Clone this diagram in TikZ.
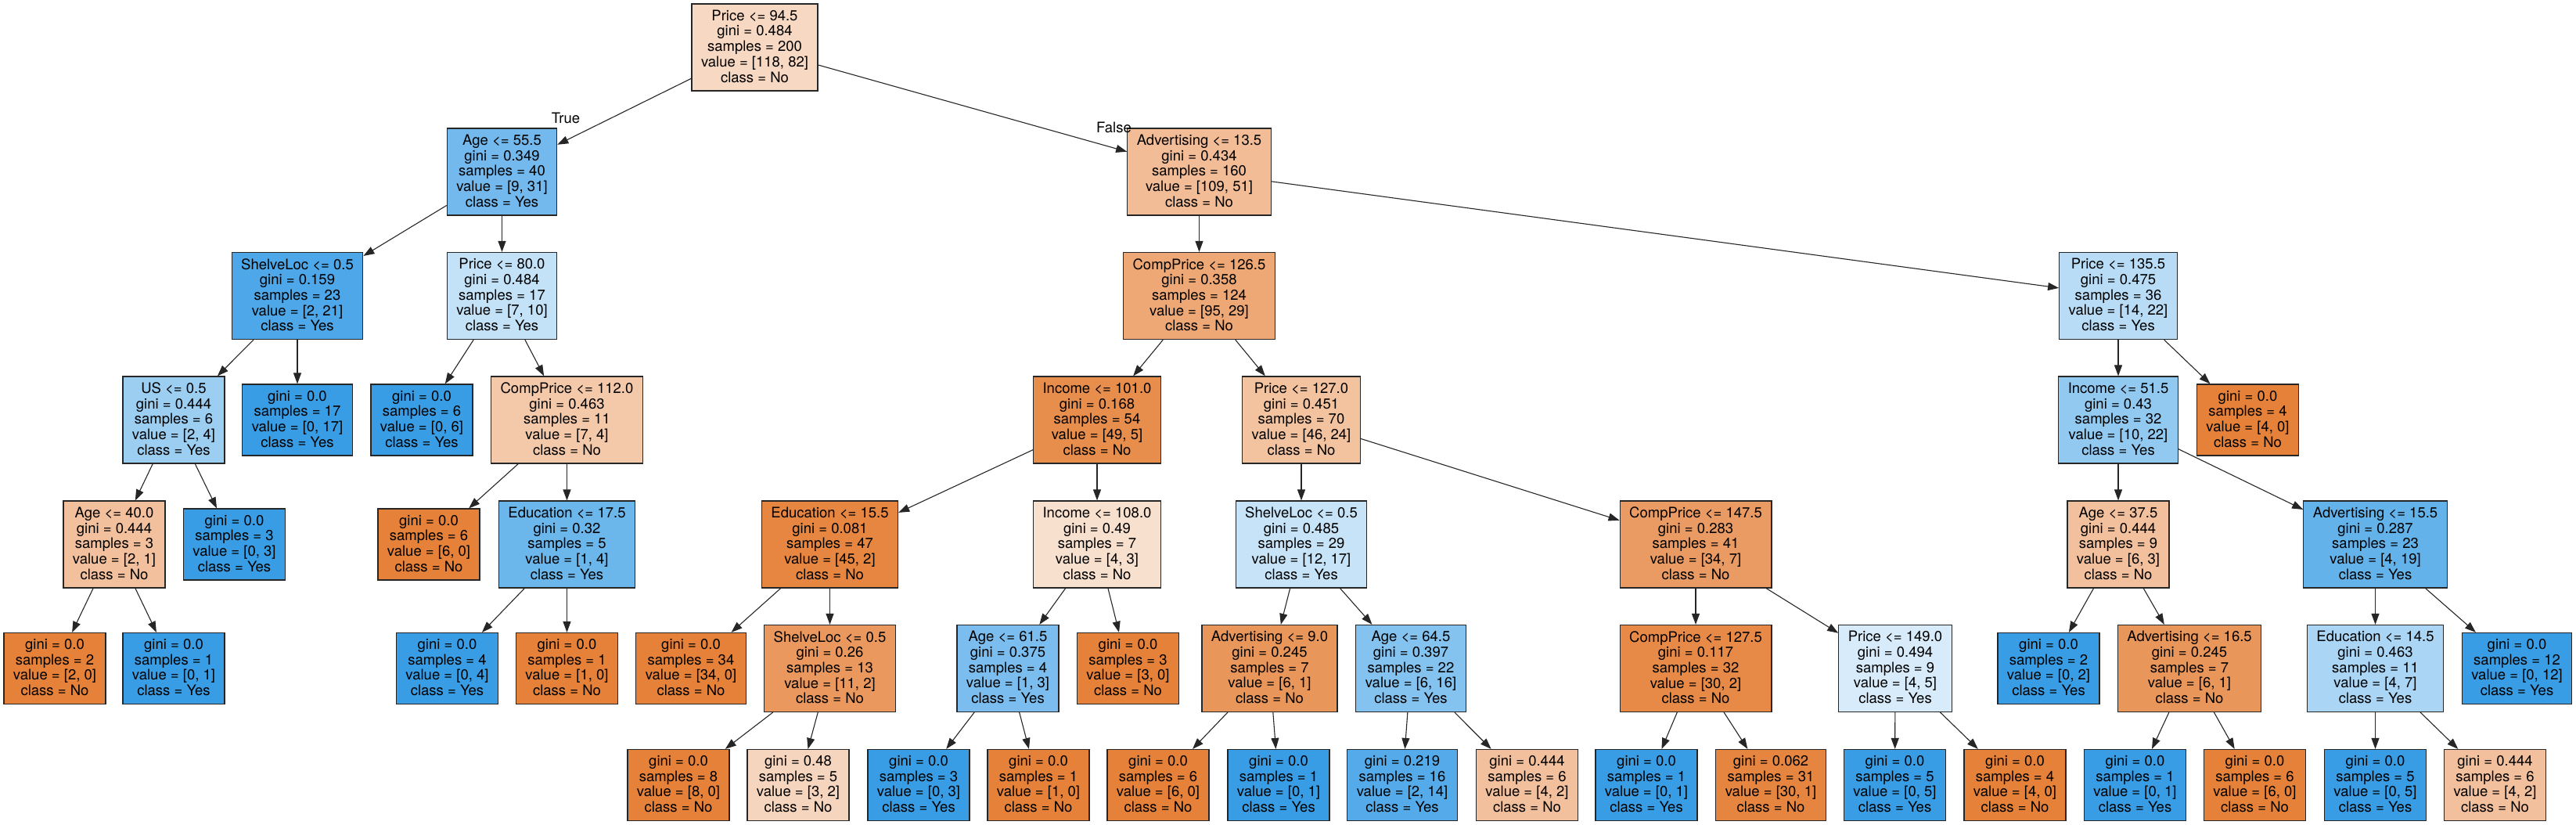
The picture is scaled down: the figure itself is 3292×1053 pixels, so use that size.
\documentclass[tikz,border=0pt]{standalone}
\usepackage{fontspec}
\setmainfont{TeX Gyre Heros}
\usetikzlibrary{arrows.meta}
\definecolor{nocolor}{rgb}{0.898, 0.506, 0.224}
\definecolor{yescolor}{rgb}{0.224, 0.616, 0.898}

\begin{document}
\begin{tikzpicture}[x=1pt, y=-1pt,
        splitbox/.style={draw=black!85, line width=1.2pt, rectangle, align=center,
                         inner xsep=12pt, inner ysep=0pt, minimum height=111pt,
                         text depth=3pt, font=\fontsize{18.5}{19.7}\selectfont},
        leafbox/.style={splitbox, minimum height=91pt},
        edge/.style={-{Triangle[length=14pt, width=10pt]}, draw=black!85, line width=1.1pt},
        edgelabel/.style={font=\fontsize{18.5}{20}\selectfont, inner sep=0pt}]
        \def \levelzero {60.4};
        \def \levelone {219.5};
        \def \leveltwo {378};
        \def \levelthree {536.5};
        \def \levelfour {695.5};
        \def \levelfive {854};
        \def \levelsix {1003};

        \useasboundingbox (0, 0) rectangle (3292, 1053);

        % root and first split
        \node[splitbox, fill=nocolor!31] (price945) at (964.5, \levelzero) {Price <= 94.5\\gini = 0.484\\samples = 200\\value = [118, 82]\\class = No};
        \node[splitbox, fill=yescolor!71] (age555) at (641.5, \levelone) {Age <= 55.5\\gini = 0.349\\samples = 40\\value = [9, 31]\\class = Yes};
        \node[splitbox, fill=nocolor!53] (adv135) at (1532.5, \levelone) {Advertising <= 13.5\\gini = 0.434\\samples = 160\\value = [109, 51]\\class = No};
        \node[edgelabel] (truelabel) at (723, 151) {True};
        \node[edgelabel] (falselabel) at (1423.5, 163) {False};

        % level two
        \node[splitbox, fill=yescolor!90] (shelve23) at (380, \leveltwo) {ShelveLoc <= 0.5\\gini = 0.159\\samples = 23\\value = [2, 21]\\class = Yes};
        \node[splitbox, fill=yescolor!30] (price80) at (641.5, \leveltwo) {Price <= 80.0\\gini = 0.484\\samples = 17\\value = [7, 10]\\class = Yes};
        \node[splitbox, fill=nocolor!69] (comp1265) at (1532.5, \leveltwo) {CompPrice <= 126.5\\gini = 0.358\\samples = 124\\value = [95, 29]\\class = No};
        \node[splitbox, fill=yescolor!36] (price1355) at (2707, \leveltwo) {Price <= 135.5\\gini = 0.475\\samples = 36\\value = [14, 22]\\class = Yes};

        % level three
        \node[splitbox, fill=yescolor!50] (us05) at (222, \levelthree) {US <= 0.5\\gini = 0.444\\samples = 6\\value = [2, 4]\\class = Yes};
        \node[leafbox, fill=yescolor] (leafa) at (380, \levelthree) {gini = 0.0\\samples = 17\\value = [0, 17]\\class = Yes};
        \node[leafbox, fill=yescolor] (leafb) at (539, \levelthree) {gini = 0.0\\samples = 6\\value = [0, 6]\\class = Yes};
        \node[splitbox, fill=nocolor!43] (comp112) at (724.5, \levelthree) {CompPrice <= 112.0\\gini = 0.463\\samples = 11\\value = [7, 4]\\class = No};
        \node[splitbox, fill=nocolor!90] (income101) at (1402, \levelthree) {Income <= 101.0\\gini = 0.168\\samples = 54\\value = [49, 5]\\class = No};
        \node[splitbox, fill=nocolor!48] (price127) at (1663, \levelthree) {Price <= 127.0\\gini = 0.451\\samples = 70\\value = [46, 24]\\class = No};
        \node[splitbox, fill=yescolor!55] (income515) at (2707, \levelthree) {Income <= 51.5\\gini = 0.43\\samples = 32\\value = [10, 22]\\class = Yes};
        \node[leafbox, fill=nocolor] (leafc) at (2872.5, \levelthree) {gini = 0.0\\samples = 4\\value = [4, 0]\\class = No};

        % level four
        \node[splitbox, fill=nocolor!50] (age40) at (146, \levelfour) {Age <= 40.0\\gini = 0.444\\samples = 3\\value = [2, 1]\\class = No};
        \node[leafbox, fill=yescolor] (leafd) at (299.5, \levelfour) {gini = 0.0\\samples = 3\\value = [0, 3]\\class = Yes};
        \node[leafbox, fill=nocolor] (leafe) at (548, \levelfour) {gini = 0.0\\samples = 6\\value = [6, 0]\\class = No};
        \node[splitbox, fill=yescolor!75] (edu175) at (724.5, \levelfour) {Education <= 17.5\\gini = 0.32\\samples = 5\\value = [1, 4]\\class = Yes};
        \node[splitbox, fill=nocolor!96] (edu155) at (1060.5, \levelfour) {Education <= 15.5\\gini = 0.081\\samples = 47\\value = [45, 2]\\class = No};
        \node[splitbox, fill=nocolor!25] (income108) at (1402, \levelfour) {Income <= 108.0\\gini = 0.49\\samples = 7\\value = [4, 3]\\class = No};
        \node[splitbox, fill=yescolor!29] (shelve29) at (1663, \levelfour) {ShelveLoc <= 0.5\\gini = 0.485\\samples = 29\\value = [12, 17]\\class = Yes};
        \node[splitbox, fill=nocolor!79] (comp1475) at (2167, \levelfour) {CompPrice <= 147.5\\gini = 0.283\\samples = 41\\value = [34, 7]\\class = No};
        \node[splitbox, fill=nocolor!50] (age375) at (2707, \levelfour) {Age <= 37.5\\gini = 0.444\\samples = 9\\value = [6, 3]\\class = No};
        \node[splitbox, fill=yescolor!79] (adv155) at (3035.5, \levelfour) {Advertising <= 15.5\\gini = 0.287\\samples = 23\\value = [4, 19]\\class = Yes};

        % level five
        \node[leafbox, fill=nocolor] (leaff) at (70, \levelfive) {gini = 0.0\\samples = 2\\value = [2, 0]\\class = No};
        \node[leafbox, fill=yescolor] (leafg) at (222, \levelfive) {gini = 0.0\\samples = 1\\value = [0, 1]\\class = Yes};
        \node[leafbox, fill=yescolor] (leafh) at (571.5, \levelfive) {gini = 0.0\\samples = 4\\value = [0, 4]\\class = Yes};
        \node[leafbox, fill=nocolor] (leafi) at (724.5, \levelfive) {gini = 0.0\\samples = 1\\value = [1, 0]\\class = No};
        \node[leafbox, fill=nocolor] (leafj) at (883, \levelfive) {gini = 0.0\\samples = 34\\value = [34, 0]\\class = No};
        \node[splitbox, fill=nocolor!82] (shelve13) at (1060.5, \levelfive) {ShelveLoc <= 0.5\\gini = 0.26\\samples = 13\\value = [11, 2]\\class = No};
        \node[splitbox, fill=yescolor!67] (age615) at (1288, \levelfive) {Age <= 61.5\\gini = 0.375\\samples = 4\\value = [1, 3]\\class = Yes};
        \node[leafbox, fill=nocolor] (leafk) at (1441.5, \levelfive) {gini = 0.0\\samples = 3\\value = [3, 0]\\class = No};
        \node[splitbox, fill=nocolor!83] (adv90) at (1622.5, \levelfive) {Advertising <= 9.0\\gini = 0.245\\samples = 7\\value = [6, 1]\\class = No};
        \node[splitbox, fill=yescolor!62] (age645) at (1803, \levelfive) {Age <= 64.5\\gini = 0.397\\samples = 22\\value = [6, 16]\\class = Yes};
        \node[splitbox, fill=nocolor!93] (comp1275) at (2167, \levelfive) {CompPrice <= 127.5\\gini = 0.117\\samples = 32\\value = [30, 2]\\class = No};
        \node[splitbox, fill=yescolor!20] (price149) at (2422, \levelfive) {Price <= 149.0\\gini = 0.494\\samples = 9\\value = [4, 5]\\class = Yes};
        \node[leafbox, fill=yescolor] (leafl) at (2618, \levelfive) {gini = 0.0\\samples = 2\\value = [0, 2]\\class = Yes};
        \node[splitbox, fill=nocolor!83] (adv165) at (2798, \levelfive) {Advertising <= 16.5\\gini = 0.245\\samples = 7\\value = [6, 1]\\class = No};
        \node[splitbox, fill=yescolor!43] (edu145) at (3035.5, \levelfive) {Education <= 14.5\\gini = 0.463\\samples = 11\\value = [4, 7]\\class = Yes};
        \node[leafbox, fill=yescolor] (leafm) at (3216.5, \levelfive) {gini = 0.0\\samples = 12\\value = [0, 12]\\class = Yes};

        % level six, only leaves
        \node[leafbox, fill=nocolor] (leafn) at (867, \levelsix) {gini = 0.0\\samples = 8\\value = [8, 0]\\class = No};
        \node[leafbox, fill=nocolor!33] (leafo) at (1020, \levelsix) {gini = 0.48\\samples = 5\\value = [3, 2]\\class = No};
        \node[leafbox, fill=yescolor] (leafp) at (1174, \levelsix) {gini = 0.0\\samples = 3\\value = [0, 3]\\class = Yes};
        \node[leafbox, fill=nocolor] (leafq) at (1327, \levelsix) {gini = 0.0\\samples = 1\\value = [1, 0]\\class = No};
        \node[leafbox, fill=nocolor] (leafr) at (1480, \levelsix) {gini = 0.0\\samples = 6\\value = [6, 0]\\class = No};
        \node[leafbox, fill=yescolor] (leafs) at (1634, \levelsix) {gini = 0.0\\samples = 1\\value = [0, 1]\\class = Yes};
        \node[leafbox, fill=yescolor!86] (leaft) at (1792, \levelsix) {gini = 0.219\\samples = 16\\value = [2, 14]\\class = Yes};
        \node[leafbox, fill=nocolor!50] (leafu) at (1951.5, \levelsix) {gini = 0.444\\samples = 6\\value = [4, 2]\\class = No};
        \node[leafbox, fill=yescolor] (leafv) at (2104, \levelsix) {gini = 0.0\\samples = 1\\value = [0, 1]\\class = Yes};
        \node[leafbox, fill=nocolor!97] (leafw) at (2263, \levelsix) {gini = 0.062\\samples = 31\\value = [30, 1]\\class = No};
        \node[leafbox, fill=yescolor] (leafx) at (2421.5, \levelsix) {gini = 0.0\\samples = 5\\value = [0, 5]\\class = Yes};
        \node[leafbox, fill=nocolor] (leafy) at (2575, \levelsix) {gini = 0.0\\samples = 4\\value = [4, 0]\\class = No};
        \node[leafbox, fill=yescolor] (leafz) at (2728.5, \levelsix) {gini = 0.0\\samples = 1\\value = [0, 1]\\class = Yes};
        \node[leafbox, fill=nocolor] (leafaa) at (2881.5, \levelsix) {gini = 0.0\\samples = 6\\value = [6, 0]\\class = No};
        \node[leafbox, fill=yescolor] (leafab) at (3035.5, \levelsix) {gini = 0.0\\samples = 5\\value = [0, 5]\\class = Yes};
        \node[leafbox, fill=nocolor!50] (leafac) at (3188.5, \levelsix) {gini = 0.444\\samples = 6\\value = [4, 2]\\class = No};

        % iterate on the parent/child pairs and draw every arrow
        \foreach \parent/\child in {price945/age555, price945/adv135,
                age555/shelve23, age555/price80, shelve23/us05, shelve23/leafa,
                us05/age40, us05/leafd, age40/leaff, age40/leafg,
                price80/leafb, price80/comp112, comp112/leafe, comp112/edu175,
                edu175/leafh, edu175/leafi,
                adv135/comp1265, adv135/price1355, comp1265/income101, comp1265/price127,
                income101/edu155, income101/income108, edu155/leafj, edu155/shelve13,
                shelve13/leafn, shelve13/leafo, income108/age615, income108/leafk,
                age615/leafp, age615/leafq,
                price127/shelve29, price127/comp1475, shelve29/adv90, shelve29/age645,
                adv90/leafr, adv90/leafs, age645/leaft, age645/leafu,
                comp1475/comp1275, comp1475/price149, comp1275/leafv, comp1275/leafw,
                price149/leafx, price149/leafy,
                price1355/income515, price1355/leafc, income515/age375, income515/adv155,
                age375/leafl, age375/adv165, adv165/leafz, adv165/leafaa,
                adv155/edu145, adv155/leafm, edu145/leafab, edu145/leafac} {
            \draw[edge] (\parent) -- (\child);
        }
    \end{tikzpicture}
\end{document}
